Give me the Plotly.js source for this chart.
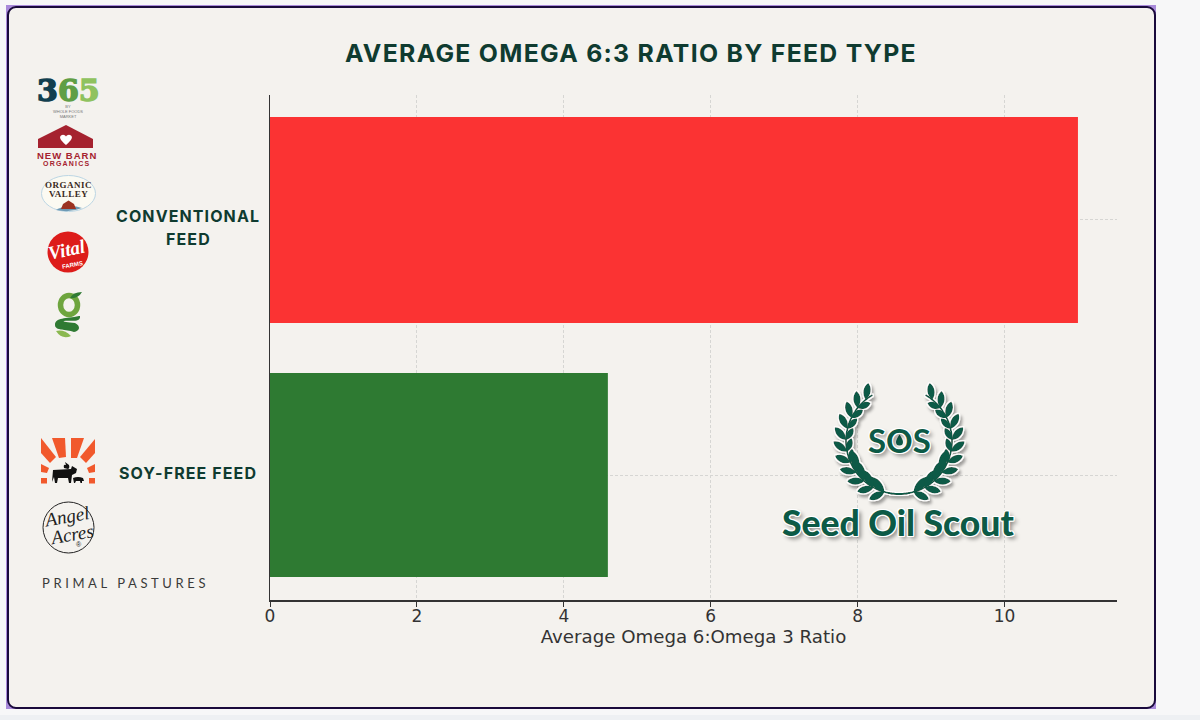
<!DOCTYPE html>
<html><head><meta charset="utf-8">
<script src="https://cdn.plot.ly/plotly-3.0.1.min.js"></script>
<style>
html,body{margin:0;padding:0;width:1200px;height:720px;overflow:hidden;background:#f7f7f8}
#frame{position:absolute;left:6px;top:5px;width:1150px;height:704px;background:#a98ada}
#card{position:absolute;left:1px;top:1px;width:1145px;height:699px;background:#f4f2ee;border:2.5px solid #1a0a3c;border-radius:9px}
#strip{position:absolute;left:0;top:715px;width:1200px;height:5px;background:#eef0f3}
#chart{position:absolute;left:0;top:0;width:1200px;height:720px}
</style></head><body>
<div id="strip"></div>
<div id="frame"><div id="card"></div></div>
<div id="chart"></div>
<script>
const categories = ['Soy-Free Feed', 'Conventional Feed'];
const ratios = [4.6, 11.0];
const barColors = ['#2e7a32', '#fb3333'];
const xTicks = [0, 2, 4, 6, 8, 10];
const chartTitle = 'AVERAGE OMEGA 6:3 RATIO BY FEED TYPE';
const xTitle = 'Average Omega 6:Omega 3 Ratio';

const L = 270, R = 1117, T = 95, B = 600;
const px = x => (x - L) / (R - L);
const py = y => (B - y) / (B - T);
const svgUri = s => 'data:image/svg+xml;charset=utf-8,' + encodeURIComponent(s);
const ink = '#0f3b30';

/* ---------- brand logos (graphics only; their words are annotations) ---------- */
const logos = `<svg xmlns="http://www.w3.org/2000/svg" viewBox="30 70 90 500" preserveAspectRatio="none" width="90" height="500">
<path d="M38 139 L66 125 L93 139 L93 148 L38 148Z" fill="#a5222f"/>
<path d="M66 145 C60 140 59 137 61 135.500 C63 134 65 135 66 136.500 C67 135 69 134 71 135.500 C73 137 72 140 66 145Z" fill="#fff"/>
<ellipse cx="68.500" cy="193.500" rx="27" ry="18" fill="#fbfaf2" stroke="#bcd6e4" stroke-width="1"/>
<path d="M56 210 Q68 203 82 208 Q70 213 56 210Z" fill="#6d9ab5"/>
<path d="M61 209 L63 204 L68.500 200.500 L74 204 L76 209Z" fill="#9c3322"/>
<circle cx="68" cy="252" r="20.500" fill="#dd1c1a"/>
<ellipse cx="69" cy="305" rx="8.500" ry="9.500" fill="none" stroke="#6ea53e" stroke-width="5.500"/>
<path d="M69 299 A7 9 0 0 1 69 311 A7 9 0 0 1 69 299Z" fill="#f4f2ee"/>
<path d="M70 298 Q73 292 82 292 Q78 299 70 298Z" fill="#2f7a33"/>
<path d="M79 316 C66 319 55 317 55 325 C55 331 66 329 74 332 C80 331 81 326 75 323 C68 322 62 322 64 321 C70 320 81 323 80 316Z" fill="#2f7a33"/>
<path d="M56 331 Q64 329 71 336 Q62 340 56 331Z" fill="#8ab84f"/>
<g fill="#f1592c">
<polygon points="41,438 56,457 50,463 41,453"/>
<polygon points="52,438 65,438 66,457 59,458"/>
<polygon points="71,438 84,438 77,458 71,458"/>
<polygon points="95,439 95,453 86,463 80,457"/>
<polygon points="41,464 49,468 47,473 41,472"/>
<polygon points="95,464 87,468 89,473 95,472"/>
<rect x="41" y="478" width="6" height="5.500"/>
<rect x="89" y="478" width="6" height="5.500"/>
</g>
<g fill="#111">
<path d="M53 470 L71 469 L72 466 L77 469 L76 473 L72 475 L71 483 L69 483 L68 478 L58 478 L57 483 L55 483 L54 477 L52 482Z"/>
<path d="M73 478 Q78 476 83 478 L84 481 L82 481 L82 483 L80.500 483 L80 481 L76 481 L75 483 L74 483Z"/>
<path d="M64 468 Q63 464 66 465 L65 462 L69 465 Q70 468 68 469Z"/>
</g>
<circle cx="68.500" cy="527.500" r="25.500" fill="none" stroke="#222" stroke-width="1"/>
</svg>`;

/* ---------- Seed Oil Scout wreath ---------- */
function leaf(x, y, ang, len, w) {
  return `<path transform="translate(${x} ${y}) rotate(${ang})" d="M0 0 C${len*.3} ${-w} ${len*.75} ${-w} ${len} 0 C${len*.75} ${w} ${len*.3} ${w} 0 0Z"/>`;
}
let wreath = '';
const cx = 899 - 820, cy = 441 - 370, rad = 53;
[-1, 1].forEach(side => {
  const pts = [];
  for (let a = -12; a <= 150; a += 2) {
    const t = a * Math.PI / 180;
    pts.push((cx + side * rad * Math.sin(t)).toFixed(1) + ' ' + (cy + rad * Math.cos(t)).toFixed(1));
  }
  wreath += `<path d="M${pts.join(' L')}" fill="none" stroke="#0c5a46" stroke-width="1.800"/>`;
  for (let a = 16; a <= 152; a += 12.5) {
    const t = a * Math.PI / 180;
    const x = cx + side * rad * Math.sin(t), y = cy + rad * Math.cos(t);
    const tan = Math.atan2(-Math.sin(t), side * Math.cos(t)) * 180 / Math.PI;
    wreath += leaf(x, y, tan + side * 42, 17, 4.800);
    if (a < 140) wreath += leaf(x, y, tan - side * 30, a < 55 ? 21 : 14, a < 55 ? 5.500 : 4.200);
  }
});
const wreathSvg = `<svg xmlns="http://www.w3.org/2000/svg" viewBox="0 0 160 140" preserveAspectRatio="none" width="160" height="140">
<defs><filter id="f" x="-10%" y="-10%" width="120%" height="120%">
<feMorphology in="SourceAlpha" operator="dilate" radius="1.200" result="d"/>
<feFlood flood-color="#ffffff"/><feComposite in2="d" operator="in" result="w"/>
<feGaussianBlur in="d" stdDeviation="1.600" result="b"/><feOffset in="b" dx="2" dy="2.500" result="o"/>
<feFlood flood-color="#000" flood-opacity=".35"/><feComposite in2="o" operator="in" result="s"/>
<feMerge><feMergeNode in="s"/><feMergeNode in="w"/><feMergeNode in="SourceGraphic"/></feMerge>
</filter></defs>
<g filter="url(#f)" fill="#0c5a46">${wreath}</g>
<path d="M79.500 64.500 C77.500 68 76 70 76 72 A3.500 3.500 0 0 0 83 72 C83 70 81.500 68 79.500 64.500Z" fill="#0c5a46"/>
</svg>`;

function note(text, x, y, font, extra) {
  return Object.assign({text, x: px(x), y: py(y), xref: 'paper', yref: 'paper', showarrow: false,
    xanchor: 'center', yanchor: 'middle', font, align: 'center'}, extra || {});
}
const sp = (n, t) => `<span style="letter-spacing:${n}px">${t}</span>`;
const fat = (c, t) => `<span style="color:${c};stroke:${c};stroke-width:1.500px">${t}</span>`;
const stamp = '1px 0 #fff,-1px 0 #fff,0 1px #fff,0 -1px #fff,1px 1px #fff,-1px -1px #fff,1px -1px #fff,-1px 1px #fff,3px 3px 4px rgba(0,0,0,.45)';
const catFont = {family: 'Inter, Liberation Sans', size: 16, color: ink, weight: 700};

const annotations = [
  note(sp(1.1, 'CONVENTIONAL'), 188, 216, catFont),
  note(sp(1.1, 'FEED'), 188, 238.500, catFont),
  note(sp(1.1, 'SOY-FREE FEED'), 188, 472.500, catFont),
  note(fat('#123f4f', '3') + fat('#5f9e45', '6') + fat('#8fc25f', '5'), 68.500, 90,
    {family: 'DejaVu Serif', size: 30, weight: 700, color: '#123f4f'}),
  note('BY<br>WHOLE FOODS<br>MARKET', 68, 111, {family: 'Liberation Sans', size: 4, color: '#777'}),
  note(sp(1, 'NEW BARN'), 66.500, 155, {family: 'Liberation Sans', size: 9.500, weight: 700, color: '#a5222f'}),
  note(sp(1.200, 'ORGANICS'), 66, 163.500, {family: 'Liberation Sans', size: 7, weight: 700, color: '#a5222f'}),
  note(sp(.5, 'ORGANIC'), 68.500, 184.500, {family: 'Liberation Serif', size: 9, weight: 700, color: '#3a2a1c'}),
  note(sp(.5, 'VALLEY'), 68.500, 194.500, {family: 'Liberation Serif', size: 9, weight: 700, color: '#3a2a1c'}),
  note('Vital', 67, 249, {family: 'Liberation Serif', size: 19, weight: 700, style: 'italic', color: '#fff'}, {textangle: -12}),
  note('FARMS', 72, 265, {family: 'Liberation Sans', size: 6, weight: 700, color: '#fff'}, {textangle: -10}),
  note('Angel', 66, 516, {family: 'Liberation Serif', size: 19, style: 'italic', color: '#222'}, {textangle: -10}),
  note('Acres', 71, 534, {family: 'Liberation Serif', size: 19, style: 'italic', color: '#222'}, {textangle: -10}),
  note('®', 79, 544, {family: 'Liberation Sans', size: 7, color: '#222'}),
  note(sp(3.600, 'PRIMAL PASTURES'), 125, 583, {family: 'Lato', size: 13, color: '#3a3a3a'}),
  note('SOS', 899, 440, {family: 'Lato', size: 33, weight: 700, color: '#0c5a46', shadow: stamp}),
  note('Seed Oil Scout', 898, 522, {family: 'Lato', size: 35.500, weight: 900, color: '#0c5a46', shadow: stamp})
];

const trace = {
  type: 'bar', orientation: 'h', y: categories, x: ratios, width: [0.8, 0.807],
  marker: {color: barColors, line: {width: 0}}, hoverinfo: 'x+y'
};
const layout = {
  width: 1200, height: 720, showlegend: false,
  margin: {l: L, r: 1200 - R, t: T, b: 720 - B, pad: 0},
  paper_bgcolor: 'rgba(0,0,0,0)', plot_bgcolor: 'rgba(0,0,0,0)',
  title: {text: sp(1.3, chartTitle), x: 631 / 1200, xanchor: 'center', y: 1 - 53 / 720, yanchor: 'middle',
    font: {family: 'Inter, Liberation Sans', size: 24.800, weight: 700, color: ink}},
  xaxis: {range: [0, (R - L) / 73.45], tickmode: 'array', tickvals: xTicks, ticktext: xTicks.map(String),
    ticks: 'outside', ticklen: 5, tickwidth: 1, tickcolor: '#333', ticklabelstandoff: -5,
    showline: true, linecolor: '#333', linewidth: 1.5, zeroline: false,
    showgrid: true, gridcolor: '#d6d6d3', griddash: '3px,2px', gridwidth: 1,
    tickfont: {family: 'DejaVu Sans', size: 17, color: '#333'},
    title: {text: xTitle, standoff: 4, font: {family: 'DejaVu Sans', size: 18.200, color: '#333'}}},
  yaxis: {type: 'category', range: [-0.49, 1.49], showticklabels: false, ticks: '',
    showline: true, linecolor: '#333', linewidth: 1.5, zeroline: false,
    showgrid: true, gridcolor: '#d6d6d3', griddash: '3px,2px', gridwidth: 1},
  images: [
    {source: svgUri(logos), xref: 'paper', yref: 'paper', x: px(30), y: py(70), sizex: 90 / (R - L), sizey: 500 / (B - T),
      sizing: 'stretch', xanchor: 'left', yanchor: 'top', layer: 'above'},
    {source: svgUri(wreathSvg), xref: 'paper', yref: 'paper', x: px(820), y: py(370), sizex: 160 / (R - L), sizey: 140 / (B - T),
      sizing: 'stretch', xanchor: 'left', yanchor: 'top', layer: 'above'}
  ],
  annotations
};
Plotly.newPlot('chart', [trace], layout, {displayModeBar: false, staticPlot: true});
</script>
</body></html>
